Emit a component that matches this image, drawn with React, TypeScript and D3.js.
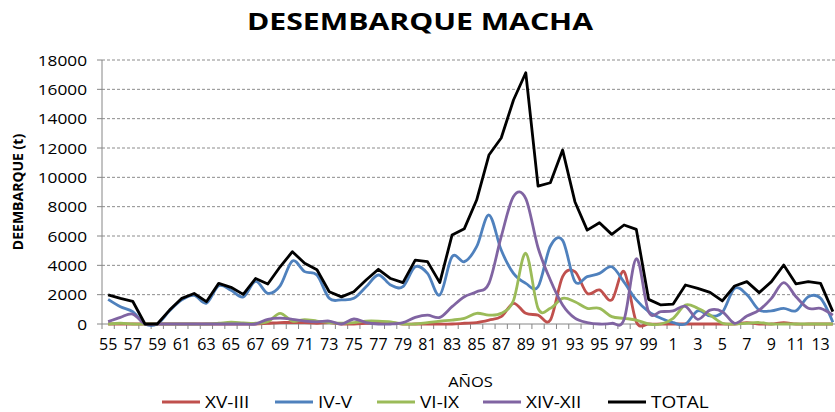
import React from "react"
import * as d3 from "d3"

const width = 835
const height = 412

const years = d3.range(1955, 2015)

const xvIII = [
  0, 0, 0, 0, 0, 0, 0, 0, 0, 0, 0, 0, 0, 50, 100, 100, 100, 50, 100, 0,
  0, 50, 100, 100, 0, 0, 0, 0, 0, 50, 100, 270, 500, 1410, 730, 610, 270, 3230, 3570, 2090,
  2320, 1640, 3570, 150, 0, 0, 0, 0, 0, 0, 0, 0, 100, 0, 0, 100, 0, 0, 0, 0,
]
const ivV = [
  1680, 1180, 840, 0, 0, 900, 1650, 1950, 1420, 2600, 2300, 1850, 2900, 2090, 2600, 4300, 3570, 3340, 1750, 1650,
  1750, 2540, 3340, 2660, 2540, 3900, 3450, 1980, 4590, 4250, 5270, 7430, 5040, 3450, 2770, 2540, 5300, 5700, 2900, 3230,
  3450, 3900, 2850, 1640, 840, 390, 90, 0, 900, 550, 800, 2430, 2000, 950, 900, 1070, 900, 1860, 1750, 120,
]
const viIX = [
  0, 50, 0, 0, 0, 0, 0, 0, 0, 50, 120, 80, 50, 150, 730, 200, 300, 200, 100, 50,
  100, 200, 200, 150, 0, 0, 100, 200, 270, 390, 730, 610, 730, 1600, 4820, 1070, 1070, 1750, 1520, 1070,
  1070, 500, 390, 270, 0, 0, 390, 1300, 1070, 610, 50, 0, 50, 100, 0, 0, 0, 0, 0, 0,
]
const xivXII = [
  160, 450, 680, 0, 0, 0, 0, 0, 0, 0, 0, 0, 0, 320, 400, 320, 200, 150, 200, 0,
  340, 100, 0, 0, 100, 450, 600, 450, 1180, 1860, 2200, 2770, 5950, 8700, 8550, 5200, 3000, 1300, 400, 100,
  0, 50, 300, 4450, 840, 850, 900, 1200, 320, 950, 840, 50, 545, 950, 1750, 2820, 1860, 1070, 1070, 610,
]
const total = [
  1980, 1750, 1550, 0, 0, 950, 1750, 2080, 1520, 2770, 2500, 2020, 3100, 2730, 3900, 4930, 4140, 3700, 2200, 1850,
  2200, 3000, 3730, 3100, 2820, 4360, 4250, 2820, 6070, 6500, 8450, 11520, 12680, 15270, 17130, 9400, 9630, 11860, 8340, 6400,
  6900, 6110, 6750, 6450, 1680, 1300, 1360, 2660, 2430, 2160, 1570, 2590, 2890, 2140, 2890, 4020, 2730, 2890, 2770, 840,
]

const yTicks = d3.range(0, 18001, 2000)

const series = [
  { name: "XV-III", values: xvIII, color: "#C0504D", smooth: true },
  { name: "IV-V", values: ivV, color: "#4F81BD", smooth: true },
  { name: "VI-IX", values: viIX, color: "#9BBB59", smooth: true },
  { name: "XIV-XII", values: xivXII, color: "#8064A2", smooth: true },
  { name: "TOTAL", values: total, color: "#000000", smooth: false },
]

const legendX = [162, 275, 377, 483, 608]

const font = "'Open Sans', sans-serif"

const Label = ({ x, y, sx = 1, anchor = "middle", size = 15, weight = "normal", children }: any) => (
  <text
    transform={`translate(${x},${y}) scale(${sx},1)`}
    textAnchor={anchor}
    dominantBaseline="central"
    fontSize={size}
    fontWeight={weight}
    fontFamily={font}
    fill="#000"
  >
    {children}
  </text>
)

export default function App() {
  const left = 102
  const right = 839
  const top = 60
  const bottom = 324

  const x = d3.scaleBand<number>().domain(years).range([left, right])
  const bw = x.bandwidth()
  const cx = (yr: number) => (x(yr) as number) + bw / 2
  const y = d3.scaleLinear().domain([0, 18000]).range([bottom, top])

  const smoothLine = d3
    .line<number>()
    .x((_, i) => cx(years[i]))
    .y(d => y(d))
    .curve(d3.curveCardinal)
  const straightLine = d3
    .line<number>()
    .x((_, i) => cx(years[i]))
    .y(d => y(d))

  return (
    <svg
      width={width}
      height={height}
      style={{ position: "absolute", left: 0, top: 0, background: "#fff" }}
    >
      <text
        x={420}
        y={30}
        textAnchor="middle"
        fontSize={24}
        fontWeight="bold"
        fontFamily={font}
        textLength={346}
        lengthAdjust="spacingAndGlyphs"
      >
        DESEMBARQUE MACHA
      </text>

      {/* grid */}
      {yTicks.slice(1).map(t => (
        <line
          key={t}
          x1={left}
          x2={width}
          y1={y(t)}
          y2={y(t)}
          stroke="#8c8c8c"
          strokeWidth={1}
          strokeDasharray="3,2"
        />
      ))}

      {/* y axis */}
      <line x1={left} x2={left} y1={top} y2={bottom} stroke="#868686" />
      {yTicks.map(t => (
        <g key={t}>
          <line x1={left - 5} x2={left} y1={y(t)} y2={y(t)} stroke="#868686" />
          <Label x={87} y={y(t)} sx={1.15} anchor="end" size={15}>
            {t}
          </Label>
        </g>
      ))}
      <text
        transform={`translate(17,192) rotate(-90)`}
        textAnchor="middle"
        dominantBaseline="central"
        fontSize={14}
        fontWeight="bold"
        fontFamily={font}
      >
        DEEMBARQUE (t)
      </text>

      {/* x axis */}
      <line x1={left} x2={width} y1={bottom} y2={bottom} stroke="#868686" />
      {years.map(yr => (
        <line
          key={yr}
          x1={x(yr) as number}
          x2={x(yr) as number}
          y1={bottom}
          y2={bottom + 5}
          stroke="#868686"
        />
      ))}
      {years.map((yr, i) =>
        i % 2 === 0 ? (
          <Label key={yr} x={cx(yr)} y={344} size={16}>
            {yr % 100}
          </Label>
        ) : null
      )}
      <Label x={(left + right) / 2} y={381} size={15} sx={1.1}>
        AÑOS
      </Label>

      {/* series */}
      {series.map(s => (
        <path
          key={s.name}
          d={(s.smooth ? smoothLine : straightLine)(s.values) || ""}
          fill="none"
          stroke={s.color}
          strokeWidth={2.8}
          strokeLinejoin="round"
        />
      ))}

      {/* legend */}
      {series.map((s, i) => (
        <g key={s.name}>
          <line
            x1={legendX[i]}
            x2={legendX[i] + 38}
            y1={402}
            y2={402}
            stroke={s.color}
            strokeWidth={3}
          />
          <Label x={legendX[i] + 43} y={401} anchor="start" size={17} sx={1.12}>
            {s.name}
          </Label>
        </g>
      ))}
    </svg>
  )
}
